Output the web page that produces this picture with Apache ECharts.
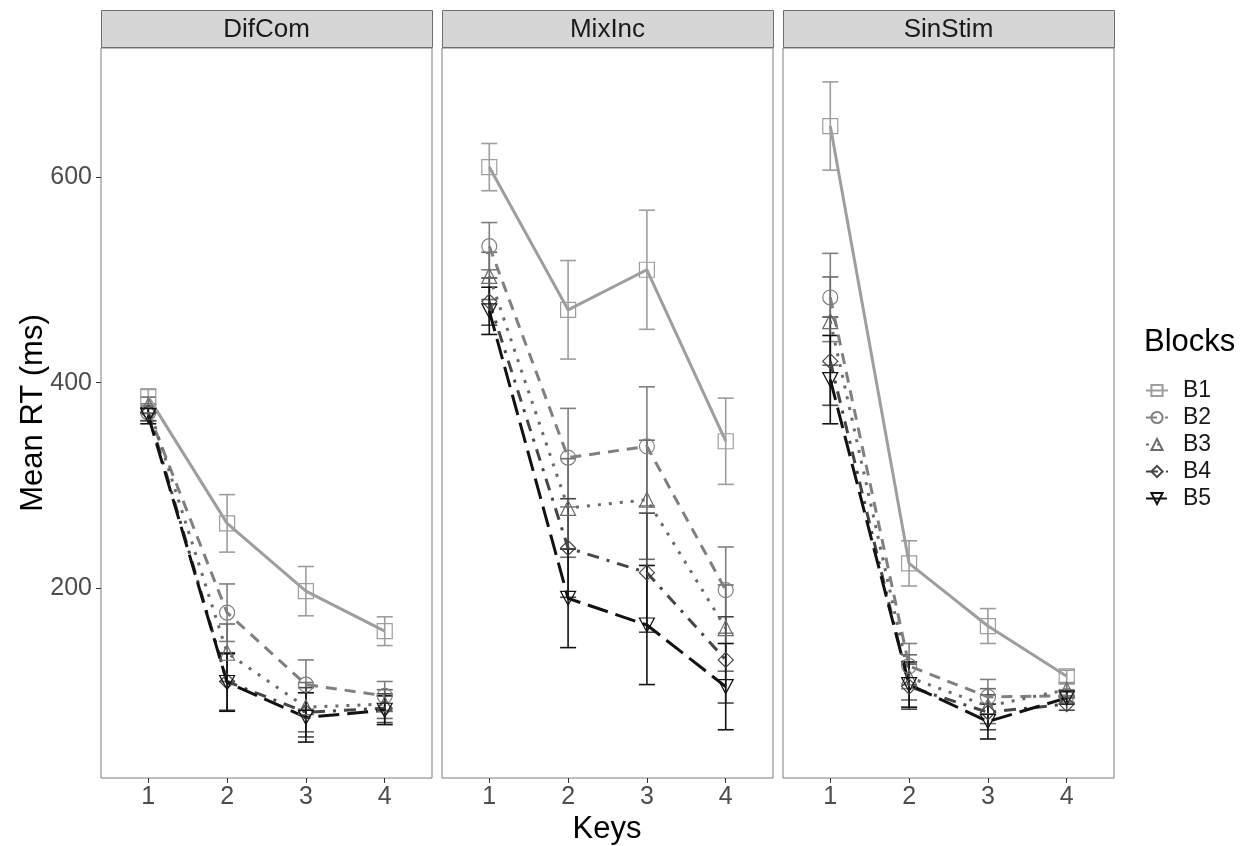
<!DOCTYPE html>
<html>
<head>
<meta charset="utf-8">
<title>Mean RT by Keys and Blocks</title>
<script src="https://cdn.jsdelivr.net/npm/echarts@6/dist/echarts.min.js"></script>
<style>
  html, body { margin: 0; padding: 0; background: #fff; }
  #chart { width: 1247px; height: 846px; }
</style>
</head>
<body>
<div id="chart"></div>
<script>
const keys = [1, 2, 3, 4]
const blocks = ['B1', 'B2', 'B3', 'B4', 'B5']
const panels = ['DifCom', 'MixInc', 'SinStim']
const yTicks = [200, 400, 600]

// mean RT (ms), one row per block B1..B5, columns = keys 1..4
const difComRT = [
  [386, 263, 197, 158],
  [371, 176, 106, 95],
  [378, 137, 84, 87],
  [371, 109, 79, 83],
  [368, 108, 74, 81]
]
const mixIncRT = [
  [610, 471, 510, 343],
  [533, 327, 338, 198],
  [504, 278, 286, 161],
  [479, 239, 215, 130],
  [470, 190, 164, 104]
]
const sinStimRT = [
  [650, 224, 163, 114],
  [483, 124, 94, 95],
  [460, 113, 85, 101],
  [421, 104, 79, 87],
  [403, 106, 70, 93]
]

// error bar half-widths per key (same for every block in a panel)
const difComErr = [8, 28, 24, 14]
const mixIncErr = [23, 48, 58, 42]
const sinStimErr = [43, 22, 17, 6]

const panelRT = [difComRT, mixIncRT, sinStimRT]
const panelErr = [difComErr, mixIncErr, sinStimErr]

const colors = ['#9e9e9e', '#808080', '#6b6b6b', '#464646', '#121212']
const dashes = ['solid', [11, 8], [3, 8], [12, 8, 3, 8], [21, 8]]
const symbols = ['rect', 'circle', 'triangle', 'diamond', 'path://M0,0 L10,0 L5,9 Z']

const FONT = 'Liberation Sans, Arial, sans-serif'
const gridLefts = [101, 442, 783]
const gridWidth = 331
const gridTop = 48
const gridBottom = 68

const chart = echarts.init(document.getElementById('chart'))

const grids = gridLefts.map(l => ({
  left: l, top: gridTop, width: gridWidth, bottom: gridBottom,
  show: true, borderColor: '#7d7d7d', borderWidth: 1, backgroundColor: '#fff'
}))

const xAxes = gridLefts.map((l, i) => ({
  type: 'value', gridIndex: i, min: 0.4, max: 4.6,
  axisLine: { show: false },
  splitLine: { show: false },
  axisTick: { show: true, length: 5, customValues: keys, lineStyle: { color: '#333', width: 1 } },
  axisLabel: { customValues: keys, fontSize: 25, color: '#4d4d4d', fontFamily: FONT, margin: 7 }
}))

const yAxes = gridLefts.map((l, i) => ({
  type: 'value', gridIndex: i, min: 15, max: 726,
  axisLine: { show: false },
  splitLine: { show: false },
  axisTick: { show: i === 0, length: 5, customValues: yTicks, lineStyle: { color: '#333', width: 1 } },
  axisLabel: { show: i === 0, customValues: yTicks, fontSize: 25, color: '#4d4d4d', fontFamily: FONT, margin: 9 }
}))

const series = []
panels.forEach((p, pi) => {
  const rt = panelRT[pi]
  const err = panelErr[pi]
  blocks.forEach((b, bi) => {
    series.push({
      type: 'custom',
      xAxisIndex: pi,
      yAxisIndex: pi,
      silent: true,
      z: 1,
      data: keys.map((k, ki) => [k, rt[bi][ki] - err[ki], rt[bi][ki] + err[ki]]),
      renderItem: (params, api) => {
        const lo = api.coord([api.value(0), api.value(1)])
        const hi = api.coord([api.value(0), api.value(2)])
        const w = 8
        const style = { stroke: colors[bi], lineWidth: 1.6 }
        return {
          type: 'group',
          children: [
            { type: 'line', shape: { x1: lo[0], y1: lo[1], x2: hi[0], y2: hi[1] }, style },
            { type: 'line', shape: { x1: lo[0] - w, y1: lo[1], x2: lo[0] + w, y2: lo[1] }, style },
            { type: 'line', shape: { x1: hi[0] - w, y1: hi[1], x2: hi[0] + w, y2: hi[1] }, style }
          ]
        }
      }
    })
  })
  blocks.forEach((b, bi) => {
    series.push({
      name: b,
      type: 'line',
      xAxisIndex: pi,
      yAxisIndex: pi,
      z: 2,
      data: keys.map((k, ki) => [k, rt[bi][ki]]),
      symbol: symbols[bi],
      symbolSize: bi === 4 ? [15, 14] : 15,
      showSymbol: true,
      itemStyle: { color: 'rgba(0,0,0,0)', borderColor: colors[bi], borderWidth: 1.2 },
      lineStyle: { color: colors[bi], width: 3, type: dashes[bi] },
      emphasis: { disabled: true },
      animation: false
    })
  })
})

const graphics = []
gridLefts.forEach((l, i) => {
  graphics.push({
    type: 'rect',
    shape: { x: l + 0.5, y: 10.5, width: gridWidth, height: gridTop - 11 },
    style: { fill: '#d6d6d6', stroke: '#6e6e6e', lineWidth: 1 }
  })
  graphics.push({
    type: 'text',
    x: l + gridWidth / 2,
    y: 30,
    style: { text: panels[i], fontSize: 26, fontFamily: FONT, fill: '#1a1a1a', align: 'center', verticalAlign: 'middle' }
  })
})
graphics.push({
  type: 'text', x: 607, y: 829,
  style: { text: 'Keys', fontSize: 31, fontFamily: FONT, fill: '#000', align: 'center', verticalAlign: 'middle' }
})
graphics.push({
  type: 'text', x: 33, y: 413, rotation: Math.PI / 2,
  style: { text: 'Mean RT (ms)', fontSize: 31, fontFamily: FONT, fill: '#000', align: 'center', verticalAlign: 'middle' }
})
graphics.push({
  type: 'text', x: 1144, y: 342,
  style: { text: 'Blocks', fontSize: 31, fontFamily: FONT, fill: '#000', align: 'left', verticalAlign: 'middle' }
})

chart.setOption({
  animation: false,
  backgroundColor: '#fff',
  grid: grids,
  xAxis: xAxes,
  yAxis: yAxes,
  legend: {
    data: blocks,
    orient: 'vertical',
    left: 1140,
    top: 374,
    itemWidth: 22,
    itemHeight: 14,
    itemGap: 4,
    selectedMode: false,
    textStyle: { fontSize: 23, fontFamily: FONT, color: '#1a1a1a', padding: [0, 0, 0, 10] }
  },
  graphic: graphics,
  series: series
})
</script>
</body>
</html>
